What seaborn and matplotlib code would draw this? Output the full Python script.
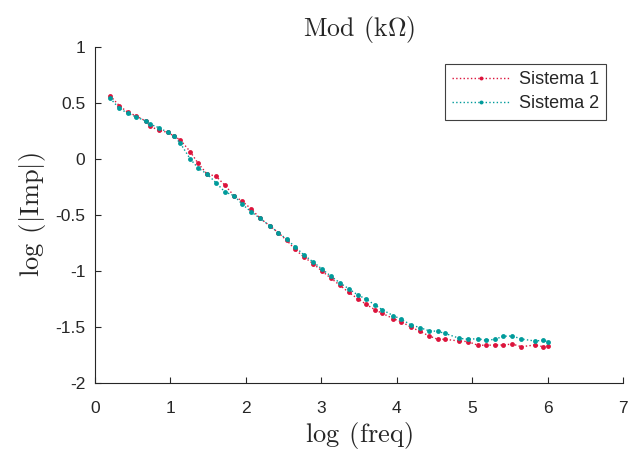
import numpy as np
import pandas as pd
import seaborn as sns
import matplotlib.pyplot as plt

# valores
log_freq = [0.200, 0.322, 0.434, 0.548, 0.672, 0.733, 0.845, 0.964, 1.047, 1.131,
            1.263, 1.366, 1.485, 1.604, 1.719, 1.843, 1.953, 2.072, 2.187, 2.320,
            2.430, 2.541, 2.651, 2.775, 2.894, 3.013, 3.129, 3.248, 3.363, 3.483,
            3.593, 3.712, 3.809, 3.955, 4.063, 4.185, 4.309, 4.424, 4.543, 4.640,
            4.830, 4.949, 5.074, 5.180, 5.303, 5.409, 5.532, 5.652, 5.829, 5.943,
            6.002]

sistema1 = [0.565, 0.476, 0.417, 0.384, 0.339, 0.292, 0.256, 0.238, 0.205, 0.170,
            0.065, -0.038, -0.134, -0.154, -0.232, -0.328, -0.378, -0.446, -0.529, -0.598,
            -0.658, -0.726, -0.806, -0.878, -0.935, -1.003, -1.065, -1.128, -1.190, -1.247,
            -1.297, -1.346, -1.378, -1.426, -1.453, -1.500, -1.539, -1.578, -1.610, -1.610,
            -1.625, -1.631, -1.663, -1.663, -1.661, -1.661, -1.652, -1.676, -1.661, -1.676,
            -1.667]

sistema2 = [0.542, 0.453, 0.408, 0.375, 0.339, 0.310, 0.280, 0.238, 0.205, 0.140,
            0.000, -0.080, -0.134, -0.212, -0.292, -0.328, -0.404, -0.473, -0.529, -0.598,
            -0.658, -0.717, -0.783, -0.860, -0.920, -0.985, -1.047, -1.107, -1.158, -1.214,
            -1.250, -1.304, -1.346, -1.399, -1.431, -1.480, -1.506, -1.533, -1.539, -1.557,
            -1.601, -1.610, -1.604, -1.619, -1.610, -1.583, -1.580, -1.607, -1.625, -1.619,
            -1.631]

x_ticks = [0, 1, 2, 3, 4, 5, 6, 7]
y_ticks = [-2, -1.5, -1, -0.5, 0, 0.5, 1]
y_labels = ['-2', '-1.5', '-1', '-0.5', '0', '0.5', '1']

sns.set_style("ticks")
plt.rcParams['font.family'] = ['Liberation Sans', 'DejaVu Sans']
plt.rcParams['mathtext.fontset'] = 'cm'

fig = plt.figure(figsize=(6.28, 4.54), dpi=100)
ax = fig.add_axes([0.1513, 0.1564, 0.8407, 0.7401])

sns.lineplot(x=log_freq, y=sistema1, ax=ax, color='#DC143C', linestyle=':',
             linewidth=1.0, marker='o', markersize=3.5, markeredgewidth=0,
             label='Sistema 1')
sns.lineplot(x=log_freq, y=sistema2, ax=ax, color='#009B9B', linestyle=':',
             linewidth=1.0, marker='o', markersize=3.5, markeredgewidth=0,
             label='Sistema 2')

ax.set_xlim(0, 7)
ax.set_ylim(-2, 1)
ax.set_xticks(x_ticks)
ax.set_yticks(y_ticks)
ax.set_yticklabels(y_labels)
ax.tick_params(direction='in', length=4, width=0.8, labelsize=12.5, colors='#262626')
ax.tick_params(axis='x', pad=13)
ax.tick_params(axis='y', pad=7)
for s in ['left', 'bottom']:
    ax.spines[s].set_color('#262626')
    ax.spines[s].set_linewidth(0.8)
sns.despine(ax=ax)

ax.set_title(r'$\mathrm{Mod\;\,(k\Omega)}$', fontsize=18.5, pad=8)
ax.set_xlabel(r'$\mathrm{log\;\,(freq)}$', fontsize=19, labelpad=3)
ax.set_ylabel(r'$\mathrm{log\;\,(|Imp|)}$', fontsize=19, labelpad=5)

leg = ax.legend(loc='upper right', bbox_to_anchor=(0.9678, 0.9494), borderaxespad=0,
                fontsize=13, frameon=True, fancybox=False, edgecolor='#404040',
                framealpha=1, handlelength=3.2, handletextpad=0.5, labelspacing=0.4,
                borderpad=0.4, numpoints=1, markerscale=0.8)
leg.get_frame().set_linewidth(0.8)

plt.savefig("out.png", dpi=100)
